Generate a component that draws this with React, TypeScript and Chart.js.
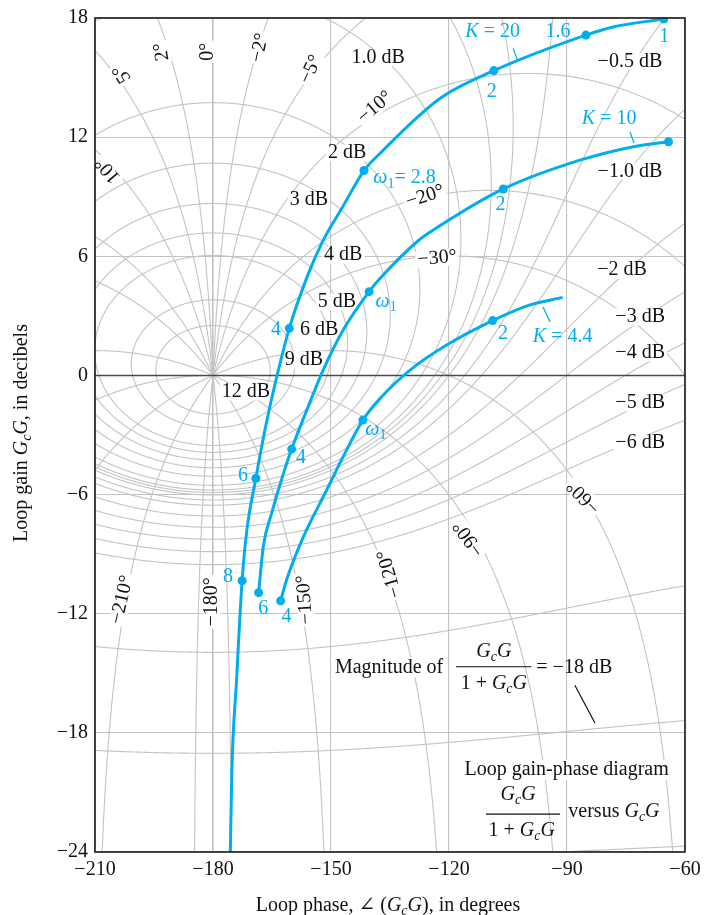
import React, { useEffect, useRef } from "react";
import { Chart, registerables } from "chart.js";

Chart.register(...registerables);

// ---------- axes ----------
const phaseTicks = [-210, -180, -150, -120, -90, -60];
const gainTicks = [-24, -18, -12, -6, 0, 6, 12, 18];

// ---------- Nichols grid (closed-loop magnitude in dB, closed-loop phase in deg) ----------
const magnitudeContoursDb = [12, 9, 6, 5, 4, 3, 2, 1, 0.5, 0.25, 0, -0.5, -1, -2, -3, -4, -5, -6, -12, -18, -24];
const phaseContoursDeg = [0, -2, -5, -10, -20, -30, -60, -90, -120, -150, -175, -180, 2, 5, 10, 20, 30, 60, 90, 120, 150, 175];

// ---------- loop gain-phase curves ----------
const k20Phase = [-175.6, -175.2, -174.0, -172.6, -171.4, -169.1, -166.8, -163.7, -160.6, -155.8, -152.0, -147.0, -141.6, -137.5, -122.3, -108.6, -85.2, -78.3, -65.4];
const k20Gain = [-24.0, -19.9, -15.3, -10.34, -7.8, -5.18, -2.75, 0.0, 2.37, 5.1, 6.8, 8.5, 10.32, 11.19, 13.95, 15.35, 17.14, 17.55, 17.95];
const k20MarkPhase = [-172.6, -169.1, -160.6, -141.6, -108.6, -85.2, -65.4];
const k20MarkGain = [-10.34, -5.18, 2.37, 10.32, 15.35, 17.14, 17.95];

const k10Phase = [-168.4, -167.2, -165.1, -162.5, -160.0, -155.8, -152.0, -146.9, -140.3, -137.5, -127.6, -124.0, -106.2, -86.7, -73.1, -64.2];
const k10Gain = [-10.94, -8.6, -6.95, -5.2, -3.71, -1.57, 0.27, 2.29, 4.22, 4.89, 6.82, 7.32, 9.39, 10.84, 11.52, 11.77];
const k10MarkPhase = [-168.4, -160.0, -140.3, -106.2, -64.2];
const k10MarkGain = [-10.94, -3.71, 4.22, 9.39, 11.77];

const k44Phase = [-162.8, -161.3, -157.0, -151.1, -146.9, -141.9, -137.5, -129.9, -120.6, -108.9, -99.4, -91.1];
const k44Gain = [-11.35, -10.3, -8.12, -5.77, -4.09, -2.25, -1.15, 0.27, 1.53, 2.76, 3.55, 3.93];
const k44MarkPhase = [-162.8, -141.9, -108.9];
const k44MarkGain = [-11.35, -2.25, 2.76];

// ---------- annotations (anchored in data units) ----------
type Seg = [string, number]; // flags: 1 = italic, 2 = subscript
const GcG: Seg[] = [["G", 1], ["c", 3], ["G", 1]];

const magnitudeLabels: [string, number, number][] = [
  ["1.0 dB", -138.0, 16.0],
  ["2 dB", -145.9, 11.2],
  ["3 dB", -155.6, 8.85],
  ["4 dB", -146.9, 6.06],
  ["5 dB", -148.5, 3.69],
  ["6 dB", -153.0, 2.29],
  ["9 dB", -156.9, 0.78],
  ["12 dB", -171.6, -0.83],
  ["\u22120.5 dB", -74.0, 15.8],
  ["\u22121.0 dB", -74.0, 10.27],
  ["\u22122 dB", -76.0, 5.31],
  ["\u22123 dB", -71.4, 2.95],
  ["\u22124 dB", -71.4, 1.13],
  ["\u22125 dB", -71.4, -1.38],
  ["\u22126 dB", -71.4, -3.4],
];

const phaseLabels: [string, number, number, number][] = [
  ["0\u00b0", -181.3, 16.3, -90],
  ["2\u00b0", -193.0, 16.3, -100],
  ["5\u00b0", -203.1, 15.2, -122],
  ["10\u00b0", -206.7, 10.35, -130],
  ["\u22122\u00b0", -168.1, 16.5, -78],
  ["\u22125\u00b0", -155.1, 15.4, -65],
  ["\u221210\u00b0", -138.8, 13.5, -40],
  ["\u221220\u00b0", -126.1, 9.0, -18],
  ["\u221230\u00b0", -123.0, 5.9, -5],
  ["\u221260\u00b0", -85.7, -6.1, -135],
  ["\u221290\u00b0", -114.9, -8.2, -126],
  ["\u2212120\u00b0", -135.0, -10.0, -106],
  ["\u2212150\u00b0", -156.6, -11.3, -94],
  ["\u2212180\u00b0", -180.2, -11.4, -90],
  ["\u2212210\u00b0", -203.1, -11.3, -77],
];

const curveLabels: [Seg[], number, number][] = [
  [[["K", 1], [" = 20", 0]], -108.9, 17.3],
  [[["1.6", 0]], -92.3, 17.31],
  [[["1", 0]], -65.3, 17.06],
  [[["2", 0]], -109.1, 14.29],
  [[["\u03c9", 1], ["1", 2], ["= 2.8", 0]], -131.3, 9.93],
  [[["2", 0]], -106.9, 8.58],
  [[["K", 1], [" = 10", 0]], -79.3, 12.95],
  [[["\u03c9", 1], ["1", 2]], -136.0, 3.7],
  [[["4", 0]], -164.0, 2.31],
  [[["2", 0]], -106.3, 2.12],
  [[["K", 1], [" = 4.4", 0]], -91.1, 1.95],
  [[["\u03c9", 1], ["1", 2]], -138.6, -2.75],
  [[["4", 0]], -157.6, -4.17],
  [[["6", 0]], -172.4, -5.07],
  [[["8", 0]], -176.2, -10.13],
  [[["6", 0]], -167.2, -11.73],
  [[["4", 0]], -161.3, -12.15],
];

const curveLeaders: [number, number, number, number][] = [
  [-103.7, 16.47, -102.45, 15.81],
  [-73.98, 12.26, -72.96, 11.7],
  [-96.1, 3.45, -94.3, 2.69],
];

const BLUE = "#00aeef";
const GRID = "#c3c3c3";
const SERIF = '"Liberation Serif", "DejaVu Serif", serif';
const FS = 20;

function fontFor(size: number, flags: number) {
  const s = flags & 2 ? Math.round(size * 0.68) : size;
  return `${flags & 1 ? "italic " : ""}${s}px ${SERIF}`;
}
function richWidth(ctx: CanvasRenderingContext2D, segs: Seg[], size: number) {
  let w = 0;
  for (const [t, f] of segs) {
    ctx.font = fontFor(size, f);
    w += ctx.measureText(t).width;
  }
  return w;
}
function drawRich(ctx: CanvasRenderingContext2D, segs: Seg[], x: number, y: number, size: number, align = "center") {
  const w = richWidth(ctx, segs, size);
  let cx = align === "center" ? x - w / 2 : align === "right" ? x - w : x;
  ctx.textAlign = "left";
  ctx.textBaseline = "middle";
  for (const [t, f] of segs) {
    ctx.font = fontFor(size, f);
    ctx.fillText(t, cx, y + (f & 2 ? size * 0.28 : 0));
    cx += ctx.measureText(t).width;
  }
  return w;
}
function boxedLabel(ctx: CanvasRenderingContext2D, segs: Seg[], px: number, py: number, size: number, angle: number, color: string) {
  ctx.save();
  ctx.translate(px, py);
  ctx.rotate((angle * Math.PI) / 180);
  const w = richWidth(ctx, segs, size);
  ctx.fillStyle = "#ffffff";
  ctx.fillRect(-w / 2 - 2, -size * 0.42, w + 4, size * 0.84);
  ctx.fillStyle = color;
  drawRich(ctx, segs, 0, 0, size, "center");
  ctx.restore();
}

// open loop G from closed loop T = m e^{j th}
function openLoop(m: number, thDeg: number): [number, number] {
  const th = (thDeg * Math.PI) / 180;
  const a = m * Math.cos(th);
  const b = m * Math.sin(th);
  const d = (1 - a) * (1 - a) + b * b;
  const re = (a - m * m) / d;
  const im = b / d;
  let ph = (Math.atan2(im, re) * 180) / Math.PI;
  if (ph > 0) ph -= 360;
  const db = 20 * Math.log10(Math.hypot(re, im));
  return [ph, db];
}

function strokePolyline(ctx: CanvasRenderingContext2D, pts: [number, number][], xs: any, ys: any) {
  ctx.beginPath();
  let pen = false;
  let prev = 0;
  for (const [ph, db] of pts) {
    const ok = Number.isFinite(db) && Number.isFinite(ph) && db < 45 && db > -70;
    if (!ok) {
      pen = false;
      continue;
    }
    if (pen && Math.abs(ph - prev) > 60) pen = false;
    const px = xs.getPixelForValue(ph);
    const py = ys.getPixelForValue(db);
    if (pen) ctx.lineTo(px, py);
    else ctx.moveTo(px, py);
    pen = true;
    prev = ph;
  }
  ctx.stroke();
}

const nicholsPlugin = {
  id: "nicholsGrid",
  beforeDatasetsDraw(chart: any) {
    const { ctx, chartArea: a, scales } = chart;
    const xs = scales.x;
    const ys = scales.y;
    ctx.save();
    ctx.beginPath();
    ctx.rect(a.left, a.top, a.right - a.left, a.bottom - a.top);
    ctx.clip();
    ctx.strokeStyle = GRID;
    ctx.lineWidth = 1.1;
    for (const mdb of magnitudeContoursDb) {
      const m = Math.pow(10, mdb / 20);
      const pts: [number, number][] = [];
      for (let i = 0; i <= 7200; i++) pts.push(openLoop(m, -180 + i * 0.05));
      strokePolyline(ctx, pts, xs, ys);
    }
    for (const n of phaseContoursDeg) {
      const pts: [number, number][] = [];
      for (let i = 0; i <= 7000; i++) pts.push(openLoop(Math.pow(10, -3.5 + i * 0.001), n));
      strokePolyline(ctx, pts, xs, ys);
    }
    // 0 dB line
    ctx.strokeStyle = "#4a4a4a";
    ctx.lineWidth = 1.6;
    ctx.beginPath();
    const y0 = ys.getPixelForValue(0);
    ctx.moveTo(a.left, y0);
    ctx.lineTo(a.right, y0);
    ctx.stroke();
    ctx.restore();

    for (const [t, ph, db] of magnitudeLabels) {
      boxedLabel(ctx, [[t, 0]], xs.getPixelForValue(ph), ys.getPixelForValue(db), FS, 0, "#111");
    }
    for (const [t, ph, db, ang] of phaseLabels) {
      boxedLabel(ctx, [[t, 0]], xs.getPixelForValue(ph), ys.getPixelForValue(db), FS, ang, "#111");
    }

    // bottom annotations
    const P = (ph: number, db: number): [number, number] => [xs.getPixelForValue(ph), ys.getPixelForValue(db)];
    ctx.save();
    ctx.fillStyle = "#111";
    ctx.strokeStyle = "#111";
    let p = P(-149.0, -14.7);
    const w1 = richWidth(ctx, [["Magnitude of", 0]], FS);
    ctx.fillStyle = "#fff";
    ctx.fillRect(p[0] - 2, p[1] - 10, w1 + 4, 20);
    ctx.fillStyle = "#111";
    drawRich(ctx, [["Magnitude of", 0]], p[0], p[1], FS, "left");
    p = P(-108.6, -13.93);
    drawRich(ctx, GcG, p[0], p[1], FS, "center");
    p = P(-108.6, -15.54);
    drawRich(ctx, [["1 + ", 0], ...GcG], p[0], p[1], FS, "center");
    let b1 = P(-118.2, -14.67);
    let b2 = P(-99.1, -14.67);
    ctx.lineWidth = 1.2;
    ctx.beginPath();
    ctx.moveTo(b1[0], b1[1]);
    ctx.lineTo(b2[0], b2[1]);
    ctx.stroke();
    p = P(-97.8, -14.73);
    drawRich(ctx, [["= \u221218 dB", 0]], p[0], p[1], FS, "left");
    b1 = P(-88.0, -15.6);
    b2 = P(-82.9, -17.5);
    ctx.beginPath();
    ctx.moveTo(b1[0], b1[1]);
    ctx.lineTo(b2[0], b2[1]);
    ctx.stroke();

    p = P(-90.1, -19.87);
    const w2 = richWidth(ctx, [["Loop gain-phase diagram", 0]], FS);
    ctx.fillStyle = "#fff";
    ctx.fillRect(p[0] - w2 / 2 - 2, p[1] - 10, w2 + 4, 20);
    ctx.fillStyle = "#111";
    drawRich(ctx, [["Loop gain-phase diagram", 0]], p[0], p[1], FS, "center");
    p = P(-102.45, -21.13);
    drawRich(ctx, GcG, p[0], p[1], FS, "center");
    p = P(-101.5, -22.92);
    drawRich(ctx, [["1 + ", 0], ...GcG], p[0], p[1], FS, "center");
    b1 = P(-110.6, -22.09);
    b2 = P(-91.8, -22.09);
    ctx.beginPath();
    ctx.moveTo(b1[0], b1[1]);
    ctx.lineTo(b2[0], b2[1]);
    ctx.stroke();
    p = P(-89.66, -21.97);
    drawRich(ctx, [["versus ", 0], ...GcG], p[0], p[1], FS, "left");
    ctx.restore();
  },
  afterDatasetsDraw(chart: any) {
    const { ctx, chartArea: a, scales } = chart;
    const xs = scales.x;
    const ys = scales.y;
    ctx.save();
    ctx.fillStyle = BLUE;
    for (const [segs, ph, db] of curveLabels) {
      drawRich(ctx, segs, xs.getPixelForValue(ph), ys.getPixelForValue(db), FS, "center");
    }
    ctx.strokeStyle = BLUE;
    ctx.lineWidth = 1.3;
    for (const [x1, y1, x2, y2] of curveLeaders) {
      ctx.beginPath();
      ctx.moveTo(xs.getPixelForValue(x1), ys.getPixelForValue(y1));
      ctx.lineTo(xs.getPixelForValue(x2), ys.getPixelForValue(y2));
      ctx.stroke();
    }
    // frame
    ctx.strokeStyle = "#1a1a1a";
    ctx.lineWidth = 1.6;
    ctx.strokeRect(a.left, a.top, a.right - a.left, a.bottom - a.top);
    // axis titles
    ctx.fillStyle = "#111";
    drawRich(
      ctx,
      [["Loop phase, \u2220 (", 0], ...GcG, ["), in degrees", 0]],
      (a.left + a.right) / 2 - 2,
      906,
      FS,
      "center"
    );
    ctx.save();
    ctx.translate(22, (a.top + a.bottom) / 2 - 2);
    ctx.rotate(-Math.PI / 2);
    drawRich(ctx, [["Loop gain ", 0], ...GcG, [", in decibels", 0]], 0, 0, FS, "center");
    ctx.restore();
    ctx.restore();
  },
};

const pts = (xs: number[], ys: number[]) => xs.map((x, i) => ({ x, y: ys[i] }));
const fmt = (v: number) => (v < 0 ? "\u2212" + Math.abs(v) : String(v));

export default function App() {
  const ref = useRef<HTMLCanvasElement | null>(null);
  useEffect(() => {
    if (!ref.current) return;
    const line = (xs: number[], ys: number[]) => ({
      data: pts(xs, ys),
      showLine: true,
      borderColor: BLUE,
      borderWidth: 3,
      pointRadius: 0,
      cubicInterpolationMode: "monotone" as const,
      fill: false,
    });
    const marks = (xs: number[], ys: number[]) => ({
      data: pts(xs, ys),
      showLine: false,
      pointRadius: 4.5,
      pointBackgroundColor: BLUE,
      pointBorderColor: BLUE,
      pointBorderWidth: 0,
    });
    const chart = new Chart(ref.current, {
      type: "scatter",
      data: {
        datasets: [
          line(k20Phase, k20Gain),
          marks(k20MarkPhase, k20MarkGain),
          line(k10Phase, k10Gain),
          marks(k10MarkPhase, k10MarkGain),
          line(k44Phase, k44Gain),
          marks(k44MarkPhase, k44MarkGain),
        ],
      },
      options: {
        animation: false,
        responsive: false,
        devicePixelRatio: 1,
        layout: { padding: { top: 18, right: 19, left: 0, bottom: 0 } },
        plugins: { legend: { display: false }, tooltip: { enabled: false } },
        scales: {
          x: {
            type: "linear",
            min: phaseTicks[0],
            max: phaseTicks[phaseTicks.length - 1],
            afterBuildTicks: (s: any) => {
              s.ticks = phaseTicks.map((v) => ({ value: v }));
            },
            afterFit: (s: any) => {
              s.height = 63;
              s.paddingLeft = 0;
              s.paddingRight = 0;
            },
            ticks: { color: "#111", font: { family: SERIF, size: FS }, padding: 6, callback: (v: any) => fmt(Number(v)) },
            grid: { color: GRID, lineWidth: 1.1, drawTicks: false },
            border: { display: false },
          },
          y: {
            type: "linear",
            min: gainTicks[0],
            max: gainTicks[gainTicks.length - 1],
            afterBuildTicks: (s: any) => {
              s.ticks = gainTicks.map((v) => ({ value: v }));
            },
            afterFit: (s: any) => {
              s.width = 95;
              s.paddingTop = 0;
              s.paddingBottom = 0;
            },
            ticks: { color: "#111", font: { family: SERIF, size: FS }, padding: 7, callback: (v: any) => fmt(Number(v)) },
            grid: { color: GRID, lineWidth: 1.1, drawTicks: false },
            border: { display: false },
          },
        },
      },
      plugins: [nicholsPlugin],
    } as any);
    return () => chart.destroy();
  }, []);
  return (
    <div style={{ position: "absolute", left: 0, top: 0, width: 704, height: 915, background: "#fff" }}>
      <canvas ref={ref} width={704} height={915} style={{ display: "block" }} />
    </div>
  );
}
